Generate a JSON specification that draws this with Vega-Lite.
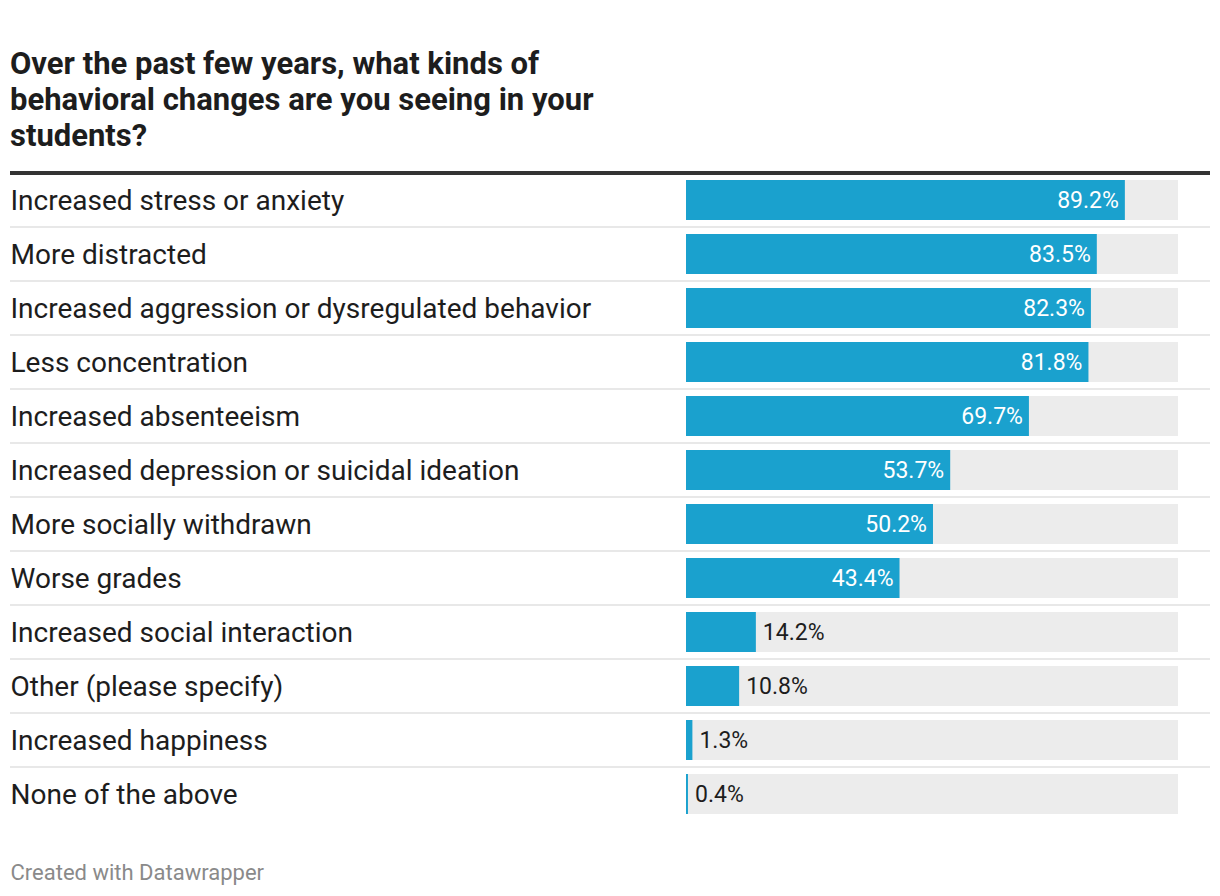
{
  "$schema": "https://vega.github.io/schema/vega-lite/v6.json",
  "width": 1200,
  "height": 648,
  "autosize": {"type": "none"},
  "padding": {"left": 10, "top": 173, "right": 10, "bottom": 75},
  "background": "white",
  "config": {"view": {"stroke": null}, "font": "Roboto"},
  "title": {
    "text": ["Over the past few years, what kinds of", "behavioral changes are you seeing in your", "students?"],
    "anchor": "start",
    "frame": "group",
    "font": "Roboto",
    "fontSize": 31,
    "fontWeight": "bold",
    "color": "#1d1d1d",
    "lineHeight": 36,
    "offset": 18
  },
  "data": {
    "values": [
      {"label": "Increased stress or anxiety", "value": 0.892},
      {"label": "More distracted", "value": 0.835},
      {"label": "Increased aggression or dysregulated behavior", "value": 0.823},
      {"label": "Less concentration", "value": 0.818},
      {"label": "Increased absenteeism", "value": 0.697},
      {"label": "Increased depression or suicidal ideation", "value": 0.537},
      {"label": "More socially withdrawn", "value": 0.502},
      {"label": "Worse grades", "value": 0.434},
      {"label": "Increased social interaction", "value": 0.142},
      {"label": "Other (please specify)", "value": 0.108},
      {"label": "Increased happiness", "value": 0.013},
      {"label": "None of the above", "value": 0.004}
    ]
  },
  "encoding": {
    "y": {
      "field": "label",
      "type": "nominal",
      "sort": null,
      "scale": {
        "domain": ["Increased stress or anxiety", "More distracted", "Increased aggression or dysregulated behavior", "Less concentration", "Increased absenteeism", "Increased depression or suicidal ideation", "More socially withdrawn", "Worse grades", "Increased social interaction", "Other (please specify)", "Increased happiness", "None of the above"],
        "paddingInner": 0,
        "paddingOuter": 0
      },
      "axis": {
        "title": null,
        "ticks": false,
        "tickSize": 0,
        "domain": false,
        "grid": false,
        "labelAlign": "left",
        "labelPadding": 0,
        "labelOffset": 2,
        "labelFont": "Roboto",
        "labelFontSize": 28,
        "labelColor": "#1d1d1d",
        "labelLimit": 0
      }
    }
  },
  "layer": [
    {
      "transform": [{"filter": "datum.label !== 'Increased stress or anxiety'"}],
      "mark": {"type": "rule", "color": "#e8e8e8", "strokeWidth": 2},
      "encoding": {"y": {"field": "label", "type": "nominal", "sort": null, "bandPosition": 0}}
    },
    {
      "transform": [{"filter": "datum.label === 'Increased stress or anxiety'"}],
      "mark": {"type": "rule", "color": "#333333", "strokeWidth": 4},
      "encoding": {"y": {"field": "label", "type": "nominal", "sort": null, "bandPosition": 0}}
    },
    {
      "mark": {"type": "bar", "color": "#ececec", "height": 40},
      "encoding": {
        "x": {
          "datum": 1,
          "type": "quantitative",
          "scale": {"domain": [0, 1], "range": [676, 1168]},
          "axis": {
            "labels": false,
            "ticks": false,
            "domain": false,
            "grid": false,
            "title": "Created with Datawrapper",
            "titleX": 0,
            "titleY": 51,
            "titleAlign": "left",
            "titleAnchor": "start",
            "titleBaseline": "middle",
            "titleFont": "Roboto",
            "titleFontSize": 22,
            "titleFontWeight": "normal",
            "titleColor": "#8a8a8a"
          }
        }
      }
    },
    {
      "mark": {"type": "bar", "color": "#1aa1ce", "height": 40},
      "encoding": {"x": {"field": "value", "type": "quantitative"}}
    },
    {
      "transform": [{"filter": "datum.value >= 0.2"}],
      "mark": {"type": "text", "align": "right", "dx": -6, "dy": 1, "color": "white", "font": "Roboto", "fontSize": 23},
      "encoding": {
        "x": {"field": "value", "type": "quantitative"},
        "text": {"field": "value", "type": "quantitative", "format": ".1%"}
      }
    },
    {
      "transform": [{"filter": "datum.value < 0.2"}],
      "mark": {"type": "text", "align": "left", "dx": 7, "dy": 1, "color": "#1d1d1d", "font": "Roboto", "fontSize": 23},
      "encoding": {
        "x": {"field": "value", "type": "quantitative"},
        "text": {"field": "value", "type": "quantitative", "format": ".1%"}
      }
    }
  ]
}
